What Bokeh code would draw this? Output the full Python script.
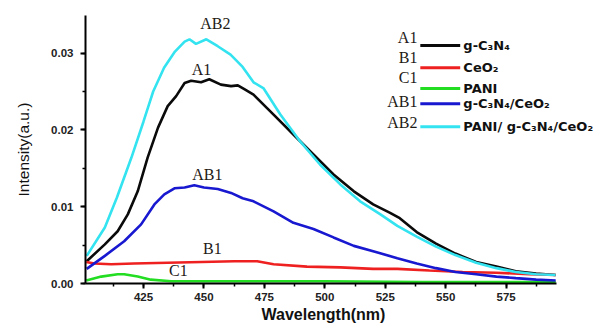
from bokeh.plotting import figure
from bokeh.models import Range1d, SingleIntervalTicker, PrintfTickFormatter, Label, Title
from bokeh.embed import file_html
from bokeh.resources import INLINE

# ---- data ----
wl_a1 = [401.5, 409, 414.3, 418.5, 422.6, 426.7, 431, 435, 438.5, 442, 444.7, 448.8, 452.2, 457,
         461.2, 464, 466.7, 470.5, 478.8, 487, 495.3, 503.6, 512, 520, 527, 531, 538, 546, 554,
         562.6, 571, 579, 587.4, 595.5]
int_a1 = [0.0029, 0.0051, 0.0068, 0.0090, 0.0120, 0.0164, 0.0203, 0.0231, 0.0244, 0.0261, 0.0264,
          0.0262, 0.0266, 0.0259, 0.0257, 0.0258, 0.0253, 0.0246, 0.0220, 0.0194, 0.0168, 0.0142,
          0.0120, 0.0103, 0.0092, 0.0085, 0.0067, 0.0052, 0.0039, 0.0028, 0.0022, 0.0016, 0.0013, 0.0011]

wl_b1 = [401.3, 404.7, 411.6, 421, 435, 449, 462.6, 472, 478.8, 492.6, 506.4, 520, 530, 543.3,
         557, 570.8, 584.6, 595.5]
int_b1 = [0.0028, 0.0026, 0.0025, 0.0026, 0.0027, 0.0028, 0.0029, 0.0029, 0.0025, 0.0022, 0.0021,
          0.0019, 0.0019, 0.0017, 0.0015, 0.0014, 0.0012, 0.0011]

wl_c1 = [401.3, 407.5, 414.3, 417, 422.6, 428, 436.4, 460, 500, 540, 595.5]
int_c1 = [0.0004, 0.0009, 0.0012, 0.0012, 0.0009, 0.0005, 0.0003, 0.0003, 0.0003, 0.0002, 0.0002]

wl_ab1 = [401.5, 409, 417, 424, 429.5, 433.6, 437.8, 442, 446, 450, 455.7, 461.2, 466, 470.5,
          478.8, 487, 495.3, 503.6, 512, 520, 530, 538, 546, 554, 562.6, 571, 579, 587.4, 595.5]
int_ab1 = [0.0019, 0.0036, 0.0055, 0.0077, 0.0103, 0.0116, 0.0124, 0.0125, 0.0128, 0.0125, 0.0123,
           0.0118, 0.0111, 0.0107, 0.0094, 0.0079, 0.0071, 0.0060, 0.0049, 0.0042, 0.0033, 0.0026,
           0.0020, 0.0015, 0.0012, 0.0009, 0.0007, 0.0005, 0.0004]

wl_ab2 = [401.5, 409, 414, 420, 425, 429, 433.5, 438, 442, 444, 446.7, 451, 455.7, 461, 466,
          470.5, 474.7, 481.6, 489.8, 498, 506.4, 514.6, 523, 530, 538, 546, 554, 562.6, 571,
          579, 587.4, 595.5]
int_ab2 = [0.0036, 0.0073, 0.0112, 0.0164, 0.0211, 0.0250, 0.0281, 0.0302, 0.0315, 0.0318, 0.0312,
           0.0318, 0.0309, 0.0298, 0.0282, 0.0262, 0.0254, 0.0220, 0.0185, 0.0155, 0.0129, 0.0107,
           0.0090, 0.0075, 0.0061, 0.0048, 0.0037, 0.0027, 0.0020, 0.0015, 0.0012, 0.0011]

series_tags = ["A1", "B1", "C1", "AB1", "AB2"]
series_names = ["g-C\u2083N\u2084", "CeO\u2082", "PANI", "g-C\u2083N\u2084/CeO\u2082",
                "PANI/ g-C\u2083N\u2084/CeO\u2082"]
series_colors = ["#0a0a0a", "#ee2020", "#22dd22", "#1818d0", "#33e3f0"]

x_lo, x_hi = 401, 596

p = figure(width=615, height=326, output_backend="svg", toolbar_location=None,
           x_range=Range1d(x_lo, 619), y_range=Range1d(0, 0.0349),
           min_border_left=85, min_border_right=3, min_border_top=15, min_border_bottom=43)
p.outline_line_color = None
p.grid.visible = False
p.background_fill_color = "white"

xs = [wl_a1, wl_b1, wl_c1, wl_ab1, wl_ab2]
ys = [int_a1, int_b1, int_c1, int_ab1, int_ab2]
for x, y, c in zip(xs, ys, series_colors):
    p.line(x, y, line_color=c, line_width=2.6)

# axes
p.xaxis.bounds = (x_lo, x_hi)
p.xaxis.ticker = SingleIntervalTicker(interval=25, num_minor_ticks=2)
p.yaxis.ticker = SingleIntervalTicker(interval=0.01, num_minor_ticks=2)
p.yaxis.formatter = PrintfTickFormatter(format="%.2f")
for ax in (p.xaxis, p.yaxis):
    ax.axis_line_width = 2
    ax.axis_line_color = "black"
    ax.major_tick_line_width = 2
    ax.minor_tick_line_width = 1.5
    ax.major_tick_in = 0
    ax.major_tick_out = 5
    ax.minor_tick_in = 0
    ax.minor_tick_out = 3
    ax.major_label_text_font = "Liberation Sans"
    ax.major_label_text_font_style = "bold"
    ax.major_label_text_font_size = "11.5px"
    ax.major_label_text_color = "#222222"
    ax.axis_label_text_font = "Liberation Sans"
    ax.axis_label_text_color = "#111111"
p.xaxis.major_label_standoff = 4
p.yaxis.major_label_standoff = 7
p.yaxis.axis_label = "Intensity(a.u.)"
p.yaxis.axis_label_text_font_style = "normal"
p.yaxis.axis_label_text_font_size = "15.5px"
p.yaxis.axis_label_standoff = 16

# x axis title, centred under the bounded axis (the frame extends right for the legend)
xt = Title(text="Wavelength(nm)", align="left", offset=176, standoff=0,
           text_font="Liberation Sans", text_font_style="bold", text_font_size="16px",
           text_color="#111111")
p.add_layout(xt, "below")

serif = "Liberation Serif"

# curve annotations
ann_x = [449, 453.5, 439.4, 451.4, 454.7]
ann_y = [0.0279, 0.0046, 0.0017, 0.0142, 0.0338]
for t, x, y in zip(series_tags, ann_x, ann_y):
    p.add_layout(Label(x=x, y=y, text=t, text_font=serif, text_font_size="16px",
                       text_align="center", text_baseline="middle", text_color="#1e1a16"))

# custom legend
leg_line_y = [0.0310, 0.0281, 0.0254, 0.0234, 0.0204]
leg_tag_y = [0.0320, 0.0294, 0.0268, 0.0237, 0.0210]
p.segment(x0=[539.5] * 5, y0=leg_line_y, x1=[556] * 5, y1=leg_line_y,
          line_color=series_colors, line_width=3)
for t, n, ly, ty in zip(series_tags, series_names, leg_line_y, leg_tag_y):
    p.add_layout(Label(x=538.3, y=ty, text=t, text_font=serif, text_font_size="16px",
                       text_align="right", text_baseline="middle", text_color="#1e1a16"))
    p.add_layout(Label(x=557.3, y=ly, text=n, text_font="DejaVu Sans",
                       text_font_style="bold", text_font_size="13px",
                       text_align="left", text_baseline="middle", text_color="#111111"))

open("out.html", "w").write(file_html(p, INLINE))
